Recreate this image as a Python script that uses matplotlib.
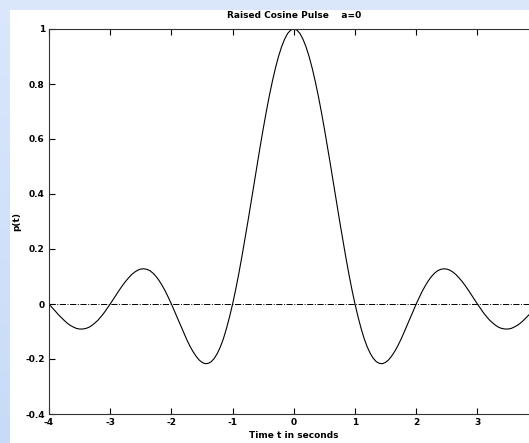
import numpy as np
import matplotlib
matplotlib.use('Agg')
import matplotlib.pyplot as plt
from matplotlib.patches import Rectangle

# pulse samples, t from -4 to 4 in steps of 0.05
t = np.round(np.arange(-80, 81) * 0.05, 2)
p = [0.000, -0.013, -0.025, -0.038, -0.049, -0.060, -0.070, -0.078, -0.084, -0.089,
     -0.091, -0.091, -0.089, -0.085, -0.078, -0.069, -0.059, -0.046, -0.032, -0.016,
     0.000, 0.017, 0.034, 0.051, 0.067, 0.082, 0.095, 0.107, 0.116, 0.123,
     0.127, 0.128, 0.126, 0.121, 0.112, 0.100, 0.085, 0.067, 0.047, 0.024,
     0.000, -0.026, -0.052, -0.078, -0.104, -0.129, -0.152, -0.172, -0.189, -0.203,
     -0.212, -0.217, -0.216, -0.210, -0.198, -0.180, -0.156, -0.126, -0.089, -0.047,
     0.000, 0.052, 0.109, 0.170, 0.234, 0.300, 0.368, 0.436, 0.505, 0.572,
     0.637, 0.699, 0.757, 0.810, 0.858, 0.900, 0.935, 0.963, 0.984, 0.996,
     1.000,
     0.996, 0.984, 0.963, 0.935, 0.900, 0.858, 0.810, 0.757, 0.699, 0.637,
     0.572, 0.505, 0.436, 0.368, 0.300, 0.234, 0.170, 0.109, 0.052, 0.000,
     -0.047, -0.089, -0.126, -0.156, -0.180, -0.198, -0.210, -0.216, -0.217, -0.212,
     -0.203, -0.189, -0.172, -0.152, -0.129, -0.104, -0.078, -0.052, -0.026, 0.000,
     0.024, 0.047, 0.067, 0.085, 0.100, 0.112, 0.121, 0.126, 0.128, 0.127,
     0.123, 0.116, 0.107, 0.095, 0.082, 0.067, 0.051, 0.034, 0.017, 0.000,
     -0.016, -0.032, -0.046, -0.059, -0.069, -0.078, -0.085, -0.089, -0.091, -0.091,
     -0.089, -0.084, -0.078, -0.070, -0.060, -0.049, -0.038, -0.025, -0.013, 0.000]

xticks = [-4, -3, -2, -1, 0, 1, 2, 3]
yticks = [-0.4, -0.2, 0, 0.2, 0.4, 0.6, 0.8, 1]
ylabels = ['-0.4', '-0.2', '0', '0.2', '0.4', '0.6', '0.8', '1']

W, H = 529, 443
fig = plt.figure(figsize=(W / 100, H / 100), dpi=100)

# light blue page background with a soft vertical gradient
grad = np.linspace(0, 1, H)[:, None]
top = np.array([0.855, 0.906, 0.988])
bot = np.array([0.780, 0.860, 0.975])
img = top + (bot - top) * grad[..., None]
img = np.repeat(img, W, axis=1)
fig.figimage(img, xo=0, yo=0, origin='upper', zorder=0)
fig.patches.append(Rectangle((10 / W, 0), 1, 1 - 10 / H, transform=fig.transFigure,
                             facecolor='white', edgecolor='none', zorder=0.5))

# axes spans -4..4 but runs past the right edge of the image
left, right_px = 49, 49 + 8 * 61.2
top_px, bot_px = 29, 414
ax = fig.add_axes([left / W, 1 - bot_px / H, (right_px - left) / W, (bot_px - top_px) / H])
ax.set_facecolor('white')
ax.set_zorder(1)

ax.plot(t, p, color='black', linewidth=0.8)
ax.axhline(0, color='black', linestyle='-.', linewidth=0.7)

ax.set_xlim(-4, 4)
ax.set_ylim(-0.4, 1)
ax.set_xticks(xticks)
ax.set_xticklabels([str(v) for v in xticks])
ax.set_yticks(yticks)
ax.set_yticklabels(ylabels)
ax.tick_params(direction='in', length=4, width=0.8, labelsize=6.5, top=True, right=True, pad=3)
for lab in ax.get_xticklabels() + ax.get_yticklabels():
    lab.set_fontweight('bold')
for s in ax.spines.values():
    s.set_linewidth(0.8)
    s.set_color('#333333')

ax.set_title('Raised Cosine Pulse    a=0', fontsize=6.5, fontweight='bold', pad=8)
ax.set_xlabel('Time t in seconds', fontsize=6.5, fontweight='bold', labelpad=3)
ax.set_ylabel('p(t)', fontsize=6.5, fontweight='bold', labelpad=3)

fig.savefig('out.png', dpi=100)
